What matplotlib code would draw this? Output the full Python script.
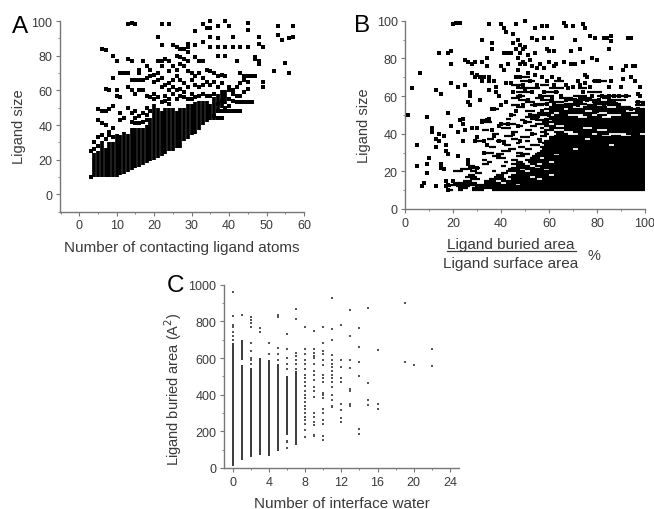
#!/usr/bin/env python3
""" Three panel ligand contact scatter figure """

import matplotlib
matplotlib.use("Agg")
import matplotlib.pyplot as plt
from matplotlib.ticker import MultipleLocator

plt.rcParams['font.family'] = ['Liberation Sans', 'DejaVu Sans']

W, H = 654, 510
GREY = '#3a3a3a'

# panel A: solid columns (contacting atoms, lowest size, highest size)
a_col_x = [4, 5, 6, 7, 8, 9, 10, 11, 12, 13, 14, 15, 16, 17, 18, 19, 20, 21, 22,
           23, 24, 25, 26, 27, 28, 29, 30, 31, 32, 33, 34, 35, 36, 37, 38, 39]
a_col_lo = [10, 10, 10, 10, 10, 10, 10, 11, 12, 13, 14, 15, 16, 17, 18, 19, 20, 21, 22,
            23, 25, 25, 27, 27, 31, 32, 34, 35, 37, 40, 42, 43, 43, 47, 50, 52]
a_col_hi = [24, 25, 31, 27, 30, 30, 35, 34, 36, 35, 38, 38, 38, 38, 40, 44, 52, 50, 48,
            50, 50, 50, 48, 50, 50, 52, 52, 53, 54, 54, 54, 52, 56, 58, 60, 60]
a_points = [
    (3, 10), (3, 25), (4, 26), (4, 30), (5, 28), (5, 33), (6, 34), (7, 32), (8, 34), (9, 33),
    (5, 49), (6, 48), (7, 48), (8, 49), (9, 51), (5, 43), (6, 41), (7, 40), (9, 38), (8, 36),
    (6, 84), (7, 83), (9, 80), (10, 77), (7, 61), (8, 60), (10, 60), (11, 56), (10, 57), (9, 67),
    (11, 70), (12, 70), (13, 70), (13, 78), (14, 77), (14, 66), (15, 66), (16, 66), (17, 66), (18, 67),
    (13, 62), (14, 60), (15, 58), (16, 60), (17, 60), (18, 57), (12, 44), (11, 47), (11, 43), (13, 50),
    (14, 47), (15, 48), (16, 45), (17, 47), (18, 46), (13, 98), (14, 99), (15, 98), (22, 98), (24, 98),
    (31, 94), (33, 98), (34, 96), (35, 96), (35, 100), (37, 97), (39, 100), (40, 97), (45, 99), (45, 95),
    (53, 97), (57, 97), (53, 92), (54, 89), (56, 90), (57, 91), (21, 91), (33, 88), (35, 91), (37, 90),
    (41, 91), (48, 91), (48, 87), (49, 85), (22, 86), (25, 86), (26, 85), (27, 84), (28, 84), (29, 87),
    (29, 85), (29, 82), (31, 86), (35, 85), (37, 85), (39, 85), (41, 85), (43, 85), (45, 85), (26, 80),
    (27, 79), (28, 78), (29, 77), (31, 79), (32, 77), (33, 77), (37, 80), (39, 80), (42, 77), (47, 79),
    (48, 77), (48, 75), (47, 78), (52, 71), (55, 76), (56, 70), (49, 65), (49, 62), (21, 77), (22, 77),
    (23, 78), (24, 77), (22, 74), (24, 71), (25, 74), (26, 72), (27, 75), (28, 74), (29, 71), (30, 70),
    (31, 68), (32, 70), (33, 67), (34, 72), (35, 71), (36, 70), (37, 68), (38, 69), (39, 68), (16, 72),
    (17, 77), (18, 74), (19, 72), (20, 69), (21, 70), (22, 67), (16, 70), (19, 68), (20, 65), (21, 66),
    (22, 62), (23, 63), (24, 64), (25, 66), (26, 68), (27, 66), (28, 64), (29, 62), (30, 66), (31, 63),
    (32, 62), (33, 63), (34, 65), (35, 63), (36, 65), (37, 62), (38, 64), (40, 62), (41, 60), (42, 62),
    (43, 64), (44, 66), (45, 68), (46, 68), (44, 68), (43, 70), (47, 68), (45, 65), (45, 61), (44, 59),
    (40, 60), (41, 58), (42, 57), (43, 57), (40, 55), (41, 54), (42, 53), (43, 53), (44, 53), (45, 53),
    (46, 53), (40, 48), (41, 48), (42, 48), (43, 48), (37, 48), (38, 48), (39, 48), (37, 44), (38, 44),
    (36, 45), (19, 56), (20, 55), (23, 57), (24, 55), (25, 58), (26, 55), (27, 57), (28, 59), (30, 58),
    (24, 60), (25, 62), (26, 60), (27, 61), (28, 56), (29, 55), (30, 55), (31, 56), (32, 57), (33, 58),
    (34, 57), (35, 57), (36, 58), (19, 48), (18, 50), (20, 58), (21, 56), (22, 53), (23, 54), (24, 52),
    (15, 41), (16, 41), (17, 42), (18, 43), (14, 42), (15, 44), (38, 54), (39, 50), (37, 52), (40, 51),
]

# panel B: horizontal runs read row by row (ligand size, start %, end %)
b_run_y = [
    10, 10, 10, 10, 11, 11, 12, 12, 12, 13, 13, 14, 14, 14, 15, 15, 15, 16, 16, 16, 16,
    17, 17, 17, 17, 18, 18, 18, 18, 19, 19, 19, 20, 20, 20, 20, 20, 21, 21, 21, 21,
    22, 22, 22, 23, 23, 23, 23, 24, 24, 24, 24, 25, 25, 25, 25, 25, 26, 26, 26,
    27, 27, 27, 28, 28, 28, 29, 29, 29, 29, 30, 30, 30, 31, 31, 32, 32, 32, 32,
    33, 33, 33, 34, 34, 34, 34, 35, 35, 36, 36, 36, 36, 37, 37, 37, 37, 37, 38, 38,
    39, 39, 39, 39, 39, 40, 40, 40, 40, 40, 40, 40, 41, 41, 41, 41, 42, 42, 42, 42, 42,
    43, 43, 43, 43, 44, 44, 44, 44, 45, 45, 45, 46, 46, 46, 47, 47, 47, 47, 48, 48, 48,
    49, 49, 49, 49, 50, 50, 50, 50, 50, 50, 50, 51, 51, 51, 52, 52, 52, 52, 53, 53, 53,
    54, 54, 54, 54, 55, 55, 55, 55, 55, 55, 56, 56, 56, 57, 57, 57, 57, 57,
    58, 58, 58, 58, 59, 59, 59, 59, 59, 60, 60, 60, 60, 62, 62, 62, 64, 64, 64,
    66, 66, 68, 68, 68, 70,
]
b_run_lo = [
    18, 22, 28, 36, 22, 28, 16, 21, 29, 17, 48, 20, 33, 42, 24, 33, 40, 27, 35, 44, 57,
    25, 37, 43, 54, 26, 38, 44, 62, 29, 40, 46, 20, 27, 36, 42, 52, 23, 43, 50, 60,
    28, 44, 56, 26, 40, 46, 54, 32, 44, 52, 57, 34, 41, 46, 51, 62, 32, 44, 50,
    38, 52, 58, 36, 46, 53, 38, 48, 54, 64, 32, 46, 55, 40, 56, 43, 50, 57, 72,
    35, 47, 56, 41, 52, 58, 87, 46, 57, 30, 38, 50, 58, 34, 44, 55, 60, 77, 48, 60,
    41, 56, 62, 86, 94, 36, 52, 58, 63, 72, 80, 92, 44, 56, 62, 70, 32, 50, 58, 66, 84,
    40, 56, 60, 78, 46, 52, 58, 66, 40, 54, 62, 33, 50, 57, 31, 48, 55, 61, 42, 52, 58,
    50, 60, 76, 86, 44, 52, 62, 74, 80, 90, 97, 55, 64, 84, 50, 60, 78, 96, 36, 58, 68,
    46, 60, 74, 88, 44, 52, 62, 76, 84, 96, 55, 66, 80, 50, 60, 70, 78, 96,
    47, 56, 68, 84, 44, 54, 64, 72, 82, 46, 56, 70, 80, 46, 58, 76, 48, 60, 72,
    44, 56, 48, 62, 78, 46,
]
b_run_hi = [
    20, 24, 33, 100, 26, 100, 19, 27, 100, 46, 100, 30, 40, 100, 28, 38, 100, 31, 42, 55, 100,
    30, 41, 52, 100, 29, 41, 60, 100, 32, 43, 100, 24, 30, 38, 50, 100, 26, 48, 58, 100,
    31, 54, 100, 29, 42, 52, 100, 35, 50, 55, 100, 36, 43, 49, 60, 100, 34, 47, 100,
    42, 56, 100, 40, 50, 100, 41, 52, 62, 100, 37, 49, 100, 44, 100, 46, 53, 70, 100,
    38, 50, 100, 44, 56, 85, 100, 48, 100, 33, 42, 52, 100, 37, 47, 57, 75, 100, 52, 100,
    45, 59, 82, 90, 100, 39, 55, 60, 68, 78, 85, 98, 47, 59, 66, 100, 35, 53, 62, 80, 100,
    44, 58, 74, 100, 49, 55, 63, 100, 46, 60, 100, 36, 53, 100, 35, 50, 60, 100, 44, 55, 100,
    56, 72, 82, 100, 46, 60, 68, 78, 84, 94, 100, 62, 80, 100, 54, 75, 92, 100, 39, 66, 100,
    50, 70, 84, 94, 48, 58, 72, 80, 90, 100, 60, 76, 90, 54, 66, 74, 88, 100,
    52, 62, 80, 92, 48, 58, 70, 78, 86, 50, 62, 76, 94, 52, 64, 82, 56, 66, 76,
    50, 60, 54, 66, 84, 52,
]
b_points = [
    (1, 50), (3, 64), (5, 34), (5, 23), (6, 72), (7, 12), (8, 14), (9, 19), (9, 24), (9, 49),
    (10, 27), (11, 41), (11, 43), (13, 12), (13, 33), (13, 37), (13, 63), (14, 36), (14, 40), (14, 83),
    (15, 22), (15, 24), (15, 61), (16, 39), (16, 21), (17, 12), (17, 15), (17, 31), (17, 34), (18, 10),
    (18, 13), (18, 29), (18, 51), (18, 83), (19, 84), (19, 77), (19, 67), (19, 44), (20, 98), (20, 15),
    (21, 99), (22, 28), (22, 41), (22, 65), (23, 99), (23, 47), (24, 48), (24, 36), (24, 45), (25, 42),
    (25, 66), (25, 79), (26, 26), (26, 24), (26, 78), (26, 57), (27, 60), (27, 62), (27, 55), (27, 22),
    (28, 77), (28, 72), (28, 43), (29, 78), (29, 70), (29, 36), (30, 22), (30, 38), (30, 71), (30, 43),
    (31, 58), (31, 70), (32, 90), (32, 78), (32, 46), (32, 68), (33, 36), (33, 70), (33, 30), (34, 47),
    (34, 80), (34, 76), (34, 34), (35, 98), (35, 48), (35, 70), (35, 68), (35, 63), (36, 88), (36, 85),
    (36, 53), (36, 42), (37, 39), (37, 53), (37, 68), (38, 62), (38, 65), (39, 60), (39, 36), (39, 44),
    (40, 98), (40, 76), (40, 55), (40, 45), (41, 96), (41, 74), (41, 83), (41, 35), (42, 94), (42, 67),
    (42, 57), (43, 83), (43, 77), (43, 45), (44, 83), (44, 67), (44, 50), (45, 93), (45, 88), (45, 62),
    (45, 40), (46, 98), (46, 85), (46, 70), (46, 52), (47, 90), (47, 80), (47, 74), (47, 65), (47, 44),
    (48, 87), (48, 83), (48, 77), (48, 70), (48, 60), (48, 36), (49, 85), (49, 78), (49, 66), (49, 55),
    (50, 100), (50, 86), (50, 77), (50, 63), (50, 46), (51, 82), (51, 72), (51, 58), (52, 79), (52, 68),
    (52, 50), (53, 91), (53, 76), (53, 62), (53, 40), (54, 96), (54, 83), (54, 71), (54, 55), (55, 90),
    (55, 75), (55, 66), (55, 48), (56, 77), (56, 60), (56, 36), (57, 97), (57, 70), (57, 52), (58, 91),
    (58, 75), (58, 62), (59, 97), (59, 85), (59, 68), (59, 56), (60, 84), (60, 78), (60, 50), (61, 91),
    (61, 70), (61, 59), (62, 84), (62, 76), (62, 66), (62, 55), (63, 77), (63, 62), (64, 69), (65, 60),
    (66, 99), (66, 78), (67, 97), (67, 66), (67, 58), (68, 64), (69, 84), (69, 77), (70, 97), (70, 65),
    (71, 90), (71, 77), (71, 58), (72, 55), (72, 68), (73, 85), (73, 66), (74, 98), (74, 78), (74, 62),
    (75, 96), (75, 71), (75, 67), (76, 70), (76, 58), (77, 92), (77, 65), (78, 80), (78, 60), (79, 91),
    (79, 68), (79, 55), (80, 79), (80, 68), (81, 68), (81, 58), (82, 60), (83, 91), (83, 55), (84, 91),
    (85, 85), (85, 65), (85, 60), (86, 92), (86, 75), (86, 68), (86, 89), (87, 60), (88, 56), (89, 60),
    (90, 65), (91, 74), (91, 69), (92, 76), (92, 60), (93, 91), (94, 91), (94, 70), (95, 76), (96, 76),
    (96, 68), (97, 61), (98, 65), (98, 60), (99, 56), (97, 57), (90, 53), (94, 53), (97, 53), (80, 52),
]

# panel C: solid columns (interface water, lowest area, highest area)
c_col_x = [0, 1, 1, 2, 3, 4, 5, 6, 7]
c_col_lo = [10, 45, 590, 60, 70, 65, 95, 180, 125]
c_col_hi = [680, 560, 700, 545, 600, 590, 565, 500, 530]
c_points = [
    (0, 960), (0, 830), (0, 780), (0, 770), (0, 740), (0, 720), (0, 700), (1, 835), (2, 825), (2, 810),
    (2, 790), (2, 770), (2, 680), (2, 640), (2, 600), (2, 590), (2, 570), (3, 765), (3, 740), (4, 680),
    (4, 620), (5, 835), (5, 825), (5, 655), (5, 620), (5, 590), (6, 730), (6, 650), (6, 600), (6, 570),
    (6, 540), (6, 150), (6, 140), (6, 110), (7, 865), (7, 815), (7, 625), (7, 610), (7, 590), (7, 570),
    (7, 540), (8, 770), (8, 650), (8, 620), (8, 590), (8, 570), (8, 540), (8, 510), (8, 490), (8, 470),
    (8, 450), (8, 420), (8, 400), (8, 380), (8, 360), (8, 340), (8, 320), (8, 300), (8, 280), (8, 260),
    (8, 240), (8, 210), (8, 170), (9, 750), (9, 650), (9, 630), (9, 610), (9, 600), (9, 570), (9, 530),
    (9, 510), (9, 480), (9, 440), (9, 420), (9, 390), (9, 300), (9, 280), (9, 250), (9, 235), (9, 180),
    (9, 175), (10, 770), (10, 680), (10, 640), (10, 620), (10, 590), (10, 560), (10, 510), (10, 490), (10, 470),
    (10, 410), (10, 400), (10, 380), (10, 320), (10, 300), (10, 260), (10, 240), (10, 175), (10, 155), (11, 930),
    (11, 760), (11, 700), (11, 615), (11, 590), (11, 570), (11, 550), (11, 530), (11, 510), (11, 490), (11, 470),
    (11, 440), (11, 400), (11, 370), (11, 340), (11, 335), (12, 780), (12, 590), (12, 550), (12, 490), (12, 470),
    (12, 350), (12, 315), (12, 275), (12, 250), (13, 860), (13, 720), (13, 590), (13, 545), (13, 430), (13, 420),
    (13, 350), (13, 340), (14, 765), (14, 660), (14, 580), (14, 500), (14, 215), (14, 185), (15, 875), (15, 465),
    (15, 370), (15, 345), (16, 645), (16, 350), (16, 320), (19, 900), (19, 580), (20, 560), (22, 650), (22, 555),
]

xlabel_a = 'Number of contacting ligand atoms'
xlabel_c = 'Number of interface water'


def make_axes(fig, left, right, top, bottom, xlim, ylim, xstep, ystep, minor_x, minor_y):
    """ Axes placed by pixel box, left and bottom spines only """
    ax = fig.add_axes([left / W, 1 - bottom / H, (right - left) / W, (bottom - top) / H])
    ax.set_xlim(xlim)
    ax.set_ylim(ylim)
    ax.xaxis.set_major_locator(MultipleLocator(xstep))
    ax.yaxis.set_major_locator(MultipleLocator(ystep))
    ax.xaxis.set_minor_locator(MultipleLocator(minor_x))
    ax.yaxis.set_minor_locator(MultipleLocator(minor_y))
    for side in ('top', 'right'):
        ax.spines[side].set_visible(False)
    for side in ('left', 'bottom'):
        ax.spines[side].set_color('#777777')
        ax.spines[side].set_linewidth(1.0)
    ax.tick_params(which='major', length=3, width=0.8, color='#777777',
                   labelsize=9, labelcolor=GREY, pad=2.5)
    ax.tick_params(which='minor', length=1.5, width=0.7, color='#888888')
    ax.patch.set_alpha(0)
    return ax


def scatter_points(ax, points, size, color='black'):
    """ Square markers from (x, y) pairs """
    ax.scatter([p[0] for p in points], [p[1] for p in points], s=size, marker='s',
               color=color, linewidths=0, clip_on=False, zorder=3)


fig = plt.figure(figsize=(W / 100, H / 100), dpi=100)

# A
ax_a = make_axes(fig, 60, 304, 22, 212.7, (-5.15, 60), (-10, 100), 10, 20, 5, 10)
ax_a.vlines(a_col_x, a_col_lo, a_col_hi, color='black', linewidth=2.7)
scatter_points(ax_a, a_points, 6.5)
ax_a.set_ylabel('Ligand size', fontsize=10.5, color=GREY)
ax_a.yaxis.set_label_coords((26 - 60) / 244, (212.7 - 127) / 190.7)
ax_a.set_xlabel(xlabel_a, fontsize=11, color=GREY)
ax_a.xaxis.set_label_coords(0.5, -(241 - 212.7) / 190.7)

# B
ax_b = make_axes(fig, 405.3, 645, 21.7, 210, (0, 100), (0, 100), 20, 20, 10, 10)
ax_b.hlines(b_run_y, b_run_lo, b_run_hi, color='black', linewidth=1.6)
scatter_points(ax_b, b_points, 6.5)
ax_b.set_ylabel('Ligand size', fontsize=10.5, color=GREY)
ax_b.yaxis.set_label_coords((371 - 405.3) / 239.7, (210 - 126) / 188.3)
fig.text(511 / W, 1 - 245 / H, 'Ligand buried area', fontsize=11, color=GREY,
         ha='center', va='center')
fig.add_artist(plt.Line2D([447 / W, 576 / W], [1 - 252 / H, 1 - 252 / H], color=GREY, linewidth=0.9))
fig.text(511 / W, 1 - 264 / H, 'Ligand surface area', fontsize=11, color=GREY,
         ha='center', va='center')
fig.text(594 / W, 1 - 256 / H, '%', fontsize=10.5, color=GREY, ha='center', va='center')

# C
ax_c = make_axes(fig, 224, 459, 285.7, 469, (-0.96, 25), (0, 1000), 4, 200, 2, 100)
ax_c.vlines(c_col_x, c_col_lo, c_col_hi, color='#3a3a3a', linewidth=1.4)
scatter_points(ax_c, c_points, 2.0, color='#555555')
ax_c.set_ylabel('Ligand buried area (A$^2$)', fontsize=10.5, color=GREY)
ax_c.yaxis.set_label_coords((184 - 224) / 235, (469 - 389) / 183.3)
ax_c.set_xlabel(xlabel_c, fontsize=11, color=GREY)
ax_c.xaxis.set_label_coords(0.5, -(497 - 469) / 183.3)

# panel letters
for letter, px, py in (('A', 20, 27), ('B', 362, 26), ('C', 175, 286)):
    fig.text(px / W, 1 - py / H, letter, fontsize=17.5, color='black', ha='center', va='center')

fig.savefig('out.png', dpi=100)
